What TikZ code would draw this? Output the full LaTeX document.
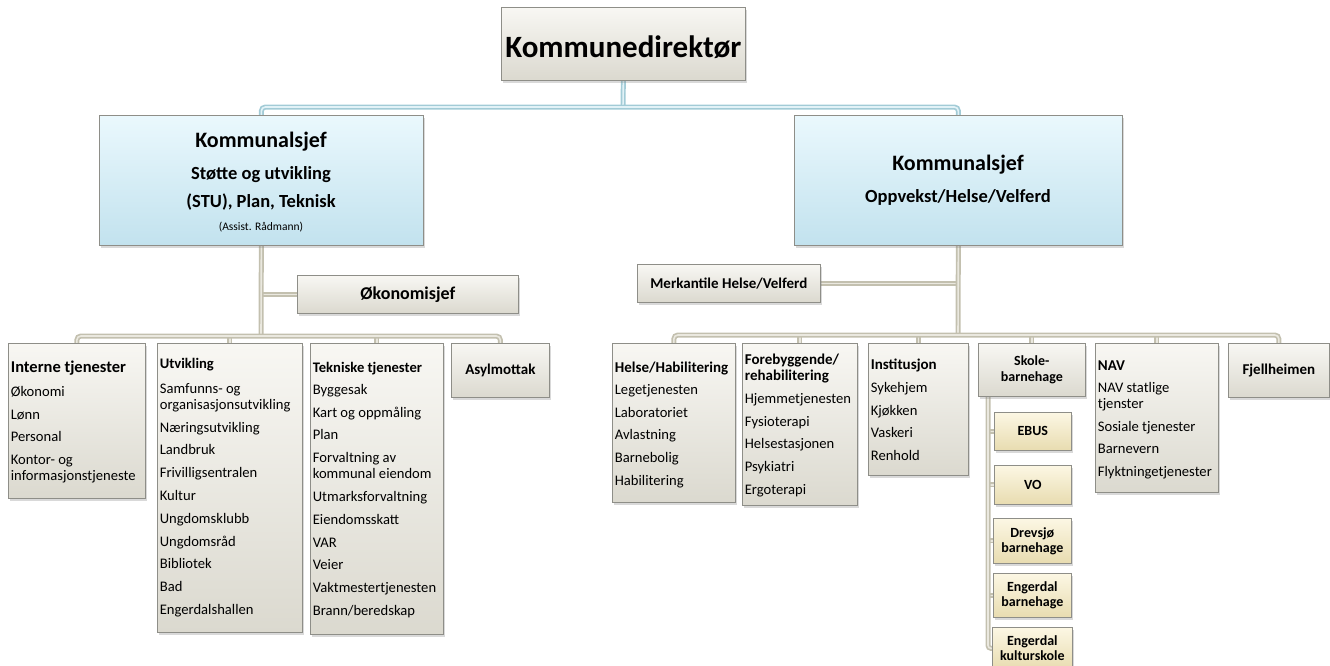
\documentclass[tikz,border=0pt]{standalone}
\usepackage{fontspec}
\setmainfont{Carlito}
\usetikzlibrary{shadows,backgrounds}

\definecolor{gtop}{HTML}{F8F7F3}
\definecolor{gbot}{HTML}{DBD9CF}
\definecolor{btop}{HTML}{EAF8FD}
\definecolor{bbot}{HTML}{C2E2EE}
\definecolor{ytop}{HTML}{FCF7E4}
\definecolor{ybot}{HTML}{E8DCB0}
\definecolor{edge}{HTML}{8E8E88}
\definecolor{linkout}{HTML}{C3C0AF}
\definecolor{linkin}{HTML}{EAE8DF}
\definecolor{blueout}{HTML}{A2CBD6}
\definecolor{bluein}{HTML}{E2F2F7}

\newcommand{\fsz}[2]{\fontsize{#1}{#2}\selectfont}
\newcommand{\nxt}{\\[6.8pt]}
\newcommand{\colbox}[3]{\parbox[c][#2][t]{#1}{\fsz{14.6}{16}\raggedright #3}}

\begin{document}
\begin{tikzpicture}[x=1pt, y=-1pt,
    unit/.style={draw=edge, line width=.7pt, top color=gtop, bottom color=gbot,
        drop shadow={shadow xshift=1.5pt, shadow yshift=-3pt, opacity=.3},
        anchor=north west, inner xsep=2.5pt, inner ysep=2pt},
    chief/.style={unit, top color=btop, bottom color=bbot},
    onebox/.style={unit, inner sep=0pt, align=center, font=\bfseries\fsz{15}{17}},
    school/.style={onebox, top color=ytop, bottom color=ybot, font=\bfseries\fsz{14}{15}},
    headline/.style={inner sep=0pt, font=\bfseries\fsz{18.5}{20}},
    graylink/.style={draw=linkout, double=linkin, double distance=1.6pt, line width=1.7pt},
    bluelink/.style={draw=blueout, double=bluein, double distance=1.6pt, line width=1.7pt}
    ]
    \useasboundingbox (0,0) rectangle (1330,665);

    % top levels
    \node[onebox, minimum width=244pt, minimum height=73pt, font=\bfseries\fsz{31}{33},
        text height=30pt, text depth=3pt] (kd) at (501,7) {Kommunedirektør};
    \node[chief, minimum width=324pt, minimum height=130pt] (stu) at (99,115) {};
    \node[headline, font=\bfseries\fsz{22}{24}] (stu1) at (261,142) {Kommunalsjef};
    \node[headline] (stu2) at (261,175) {Støtte og utvikling};
    \node[headline] (stu3) at (261,202) {(STU), Plan, Teknisk};
    \node[headline, font=\fsz{11.5}{13}] (stu4) at (261,227) {(Assist. Rådmann)};
    \node[chief, minimum width=328pt, minimum height=130pt] (ohv) at (794,115) {};
    \node[headline, font=\bfseries\fsz{22}{24}] (ohv1) at (958,165) {Kommunalsjef};
    \node[headline] (ohv2) at (958,197) {Oppvekst/Helse/Velferd};

    \node[onebox, minimum width=221pt, minimum height=38pt, font=\bfseries\fsz{18}{20}] (oko) at (297,275) {Økonomisjef};
    \node[onebox, minimum width=183pt, minimum height=38pt] (merk) at (637,264) {Merkantile Helse/Velferd};

    % left units
    \node[unit] (int) at (8,343) {\colbox{132pt}{151pt}{\rule{0pt}{27pt}{\fsz{16.5}{18}\bfseries Interne tjenester}\\[8pt]
        Økonomi\nxt Lønn\nxt Personal\nxt Kontor- og\\ informasjonstjeneste}};
    \node[unit] (utv) at (157,343) {\colbox{140pt}{285pt}{\rule{0pt}{23pt}\textbf{Utvikling}\\[9pt]
        Samfunns- og\\ organisasjonsutvikling\nxt Næringsutvikling\nxt Landbruk\nxt Frivilligsentralen\nxt
        Kultur\nxt Ungdomsklubb\nxt Ungdomsråd\nxt Bibliotek\nxt Bad\nxt Engerdalshallen}};
    \node[unit] (tek) at (310,343) {\colbox{128pt}{287pt}{\rule{0pt}{27pt}\textbf{Tekniske tjenester}\\[6pt]
        Byggesak\nxt Kart og oppmåling\nxt Plan\nxt Forvaltning av\\ kommunal eiendom\nxt
        Utmarksforvaltning\nxt Eiendomsskatt\nxt VAR\nxt Veier\nxt Vaktmestertjenesten\nxt Brann/beredskap}};
    \node[onebox, minimum width=98pt, minimum height=54pt] (asyl) at (451,343) {Asylmottak};

    % right units
    \node[unit] (hab) at (612,343) {\colbox{118pt}{155pt}{\rule{0pt}{27pt}{\fsz{15}{17}\bfseries Helse/Habilitering}\\[6pt]
        Legetjenesten\nxt Laboratoriet\nxt Avlastning\nxt Barnebolig\nxt Habilitering}};
    \node[unit] (fore) at (742,343) {\colbox{110pt}{158pt}{\rule{0pt}{19pt}{\fsz{15}{17}\bfseries Forebyggende/}\\
        {\fsz{15}{17}\bfseries rehabilitering}\\[7pt]
        Hjemmetjenesten\nxt Fysioterapi\nxt Helsestasjonen\nxt Psykiatri\nxt Ergoterapi}};
    \node[unit] (inst) at (868,343) {\colbox{95pt}{128pt}{\rule{0pt}{24pt}{\fsz{15}{17}\bfseries Institusjon}\\[7pt]
        Sykehjem\nxt Kjøkken\nxt Vaskeri\nxt Renhold}};
    \node[onebox, minimum width=107pt, minimum height=53pt, font=\bfseries\fsz{14}{16}] (skole) at (978,343) {Skole-\\barnehage};
    \node[unit] (nav) at (1095,343) {\colbox{118pt}{145pt}{\rule{0pt}{25pt}{\fsz{15}{17}\bfseries NAV}\\[6pt]
        NAV statlige\\ tjenster\nxt Sosiale tjenester\nxt Barnevern\nxt Flyktningetjenester}};
    \node[onebox, minimum width=101pt, minimum height=54pt] (fjell) at (1228,343) {Fjellheimen};

    % schools
    \node[school, minimum width=77pt, minimum height=38pt] (ebus) at (994,412) {EBUS};
    \node[school, minimum width=77pt, minimum height=39pt] (vo) at (994,465) {VO};
    \node[school, minimum width=78pt, minimum height=45pt] (drev) at (993,518) {Drevsjø\\barnehage};
    \node[school, minimum width=78pt, minimum height=44pt] (engb) at (993,573) {Engerdal\\barnehage};
    \node[school, minimum width=80pt, minimum height=42pt] (engk) at (992,627) {Engerdal\\kulturskole};

    \begin{pgfonlayer}{background}
        \coordinate (topbus) at (623,107);
        \coordinate (lbus) at (261,336);
        \coordinate (rbus) at (958,335);
        \coordinate (skbus) at (988,396);

        \draw[bluelink] (kd.south) -- (topbus);
        \draw[bluelink, rounded corners=4pt] (stu.north) |- (topbus) -| (ohv.north);

        \draw[graylink] (oko.west) -- (oko.west -| lbus);
        \draw[graylink] (stu.south) -- (lbus);
        \draw[graylink] (lbus -| utv.north) -- (utv.north);
        \draw[graylink] (lbus -| tek.north) -- (tek.north);
        \draw[graylink, rounded corners=4pt] (int.north) |- (lbus) -| (asyl.north);

        \draw[graylink] (merk.east) -- (merk.east -| rbus);
        \draw[graylink] (ohv.south) -- (rbus);
        \foreach \u in {fore, inst, skole, nav}
            \draw[graylink] (rbus -| \u.north) -- (\u.north);
        \draw[graylink, rounded corners=4pt] (hab.north) |- (rbus) -| (fjell.north);

        \foreach \s in {ebus, vo, drev, engb}
            \draw[graylink] (\s.west) -- (\s.west -| skbus);
        \draw[graylink, rounded corners=3pt] (skbus) |- (engk.west);
    \end{pgfonlayer}
\end{tikzpicture}
\end{document}
